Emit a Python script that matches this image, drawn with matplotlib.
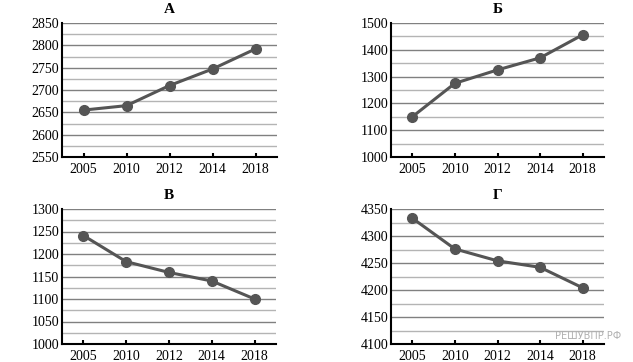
import matplotlib
matplotlib.use("Agg")
import matplotlib.pyplot as plt
import numpy as np
from matplotlib.ticker import MultipleLocator

years = ["2005", "2010", "2012", "2014", "2018"]
titles = ["А", "Б", "В", "Г"]
values_a = [2655, 2665, 2710, 2747, 2792]
values_b = [1150, 1275, 1325, 1370, 1456]
values_v = [1241, 1183, 1159, 1140, 1100]
values_g = [4333, 4276, 4254, 4242, 4204]
ylims = [(2550, 2850), (1000, 1500), (1000, 1300), (4100, 4350)]
major_steps = [50, 100, 50, 50]
minor_steps = [25, 50, 25, 25]

plt.rcParams['font.family'] = ['Liberation Serif', 'DejaVu Serif']

fig = plt.figure(figsize=(6.33, 3.62), dpi=100)
W, H = 633, 362
boxes = [(62, 23, 277, 157), (391, 23, 604, 157), (62, 209, 276, 344), (391, 209, 604, 344)]
series = [values_a, values_b, values_v, values_g]

for (l, t, r, b), title, vals, yl, ms, mn in zip(boxes, titles, series, ylims, major_steps, minor_steps):
    ax = fig.add_axes([l / W, 1 - b / H, (r - l) / W, (b - t) / H])
    x = np.arange(len(years))
    ax.set_xlim(-0.5, len(years) - 0.5)
    ax.set_ylim(*yl)
    ax.yaxis.set_major_locator(MultipleLocator(ms))
    ax.yaxis.set_minor_locator(MultipleLocator(mn))
    ax.grid(True, which='major', axis='y', color='#808080', linewidth=1.0)
    ax.grid(True, which='minor', axis='y', color='#b4b4b4', linewidth=1.0)
    ax.set_axisbelow(True)
    ax.plot(x, vals, color='#555555', linewidth=2.2, marker='o', markersize=7,
            markerfacecolor='#555555', markeredgecolor='#555555', zorder=3)
    ax.set_xticks(x)
    ax.set_xticklabels(years)
    for side in ['top', 'right']:
        ax.spines[side].set_visible(False)
    ax.spines['left'].set_linewidth(1.5)
    ax.spines['bottom'].set_linewidth(1.5)
    ax.tick_params(axis='x', direction='in', length=3, width=1.5, labelsize=10, pad=4)
    ax.tick_params(axis='y', which='both', length=0, labelsize=10, pad=2)
    ax.set_title(title, fontsize=11, fontweight='bold', pad=7)

fig.text(588 / W, 1 - 336 / H, "РЕШУВПР.РФ", fontsize=7, color='#b0b0b0',
         family=['DejaVu Sans'], ha='center', va='center')

fig.savefig("out.png", dpi=100)
